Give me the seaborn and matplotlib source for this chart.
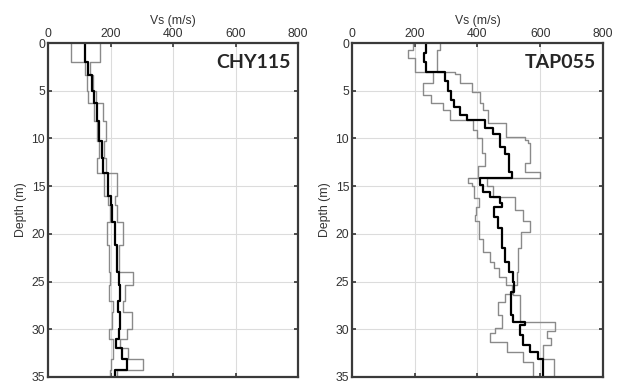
import numpy as np
import matplotlib
matplotlib.use("Agg")
import matplotlib.pyplot as plt
import seaborn as sns

# CHY115 profile: layer tops (m) and Vs (m/s) for lower bound, median, upper bound
chy_tops = [0, 2, 3.3, 5, 6.3, 8.2, 10.3, 12, 13.6, 16, 17, 18.8, 21.2, 24,
            25.4, 27, 28.2, 30, 31, 32, 33.1, 34.3]
chy_mean = [118, 127, 140, 146, 157, 163, 172, 177, 192, 200, 206, 213, 220, 226,
            230, 223, 230, 228, 218, 236, 252, 214]
chy_low = [75, 118, 124, 127, 147, 156, 164, 156, 178, 193, 198, 190, 196, 198,
           196, 209, 204, 196, 209, 209, 200, 198]
chy_up = [166, 134, 143, 154, 177, 186, 179, 186, 220, 213, 220, 241, 228, 273,
          246, 241, 268, 252, 230, 257, 305, 220]

# TAP055 profile
tap_mean_tops = [0, 1, 2, 3, 4, 5, 6, 6.7, 7.5, 8.1, 8.9, 9.5, 10.9, 11.6, 13.5,
                 14.1, 14.9, 15.6, 16.1, 16.8, 17.2, 18.2, 19.4, 21.5, 22.9, 24,
                 25, 26.1, 28.5, 29.2, 29.6, 30.6, 31.7, 32.4, 33.1]
tap_mean = [235, 228, 237, 296, 305, 315, 325, 345, 365, 425, 448, 472, 488, 500, 509,
            408, 418, 440, 471, 477, 452, 466, 478, 487, 500, 512,
            516, 508, 514, 551, 535, 546, 567, 593, 610]
tap_low_tops = [0, 0.7, 1.6, 3, 4.2, 5.4, 6.3, 7, 8.1, 9.1, 10, 11.5, 12.9, 14.1,
                14.7, 15, 16.2, 17.2, 18, 18.7, 20.5, 21.9, 23, 23.6, 24.5, 25.4,
                26.3, 27.1, 28.5, 29.9, 30.4, 31.3, 32.4, 33.4]
tap_low = [195, 180, 200, 259, 227, 253, 291, 312, 385, 397, 413, 424, 402, 371,
           381, 390, 405, 395, 392, 405, 418, 440, 452, 470, 490, 509,
           488, 466, 477, 455, 440, 493, 546, 578]
tap_up_tops = [0, 0.7, 3, 3.2, 4.2, 5.1, 6.3, 7, 8.4, 9.8, 10.2, 10.5, 12.6, 13.5,
               14.1, 15, 16.1, 17.5, 18.7, 19.8, 21.5, 24, 25.4, 26.4, 29.2, 30.2,
               30.9, 31.6, 33.1]
tap_up = [280, 272, 328, 344, 381, 408, 418, 435, 492, 551, 561, 567, 551, 599,
          430, 450, 519, 546, 567, 540, 530, 525, 514, 535, 646, 620,
          635, 610, 644]

x_ticks = [0, 200, 400, 600, 800]
y_ticks = [0, 5, 10, 15, 20, 25, 30, 35]
max_depth = 35


def staircase(tops, vals, bottom=max_depth):
    edges = np.append(tops, bottom)
    depth = np.repeat(edges, 2)[1:-1]
    vs = np.repeat(vals, 2)
    return vs, depth


sns.set_style("ticks")
plt.rcParams["font.family"] = ["Liberation Sans", "DejaVu Sans"]

fig = plt.figure(figsize=(6.21, 3.83), dpi=100)
ax1 = fig.add_axes([0.0773, 0.0157, 0.4026, 0.872])
ax2 = fig.add_axes([0.5668, 0.0157, 0.4042, 0.872])

panels = [
    (ax1, "CHY115", (chy_tops, chy_low), (chy_tops, chy_up), (chy_tops, chy_mean)),
    (ax2, "TAP055", (tap_low_tops, tap_low), (tap_up_tops, tap_up), (tap_mean_tops, tap_mean)),
]

for ax, name, low, up, mean in panels:
    for (tops, vals), col, lw in [(low, "#8a8a8a", 1.0), (up, "#8a8a8a", 1.0), (mean, "black", 1.6)]:
        vs, depth = staircase(tops, vals)
        sns.lineplot(x=vs, y=depth, sort=False, estimator=None, ax=ax, color=col, lw=lw)

    ax.set_xlim(0, 800)
    ax.set_ylim(max_depth, 0)
    ax.set_xticks(x_ticks)
    ax.set_yticks(y_ticks)
    ax.xaxis.tick_top()
    ax.xaxis.set_label_position("top")
    ax.set_xlabel("Vs (m/s)", fontsize=8.8, color="#333333", labelpad=3)
    ax.set_ylabel("Depth (m)", fontsize=8.8, color="#333333", labelpad=3)
    ax.tick_params(top=True, bottom=True, left=True, right=True, direction="in",
                   labelbottom=False, labelright=False, labelsize=8.8,
                   length=3, width=1.2, colors="#333333", pad=2)
    ax.grid(True, color="#dcdcdc", lw=0.8)
    for sp in ax.spines.values():
        sp.set_visible(True)
        sp.set_color("#3a3a3a")
        sp.set_linewidth(1.6)
    ax.text(0.97, 0.943, name, transform=ax.transAxes, ha="right", va="center",
            fontsize=14, fontweight="bold", family=["Lato", "DejaVu Sans"])

fig.savefig("out.png", dpi=100)
